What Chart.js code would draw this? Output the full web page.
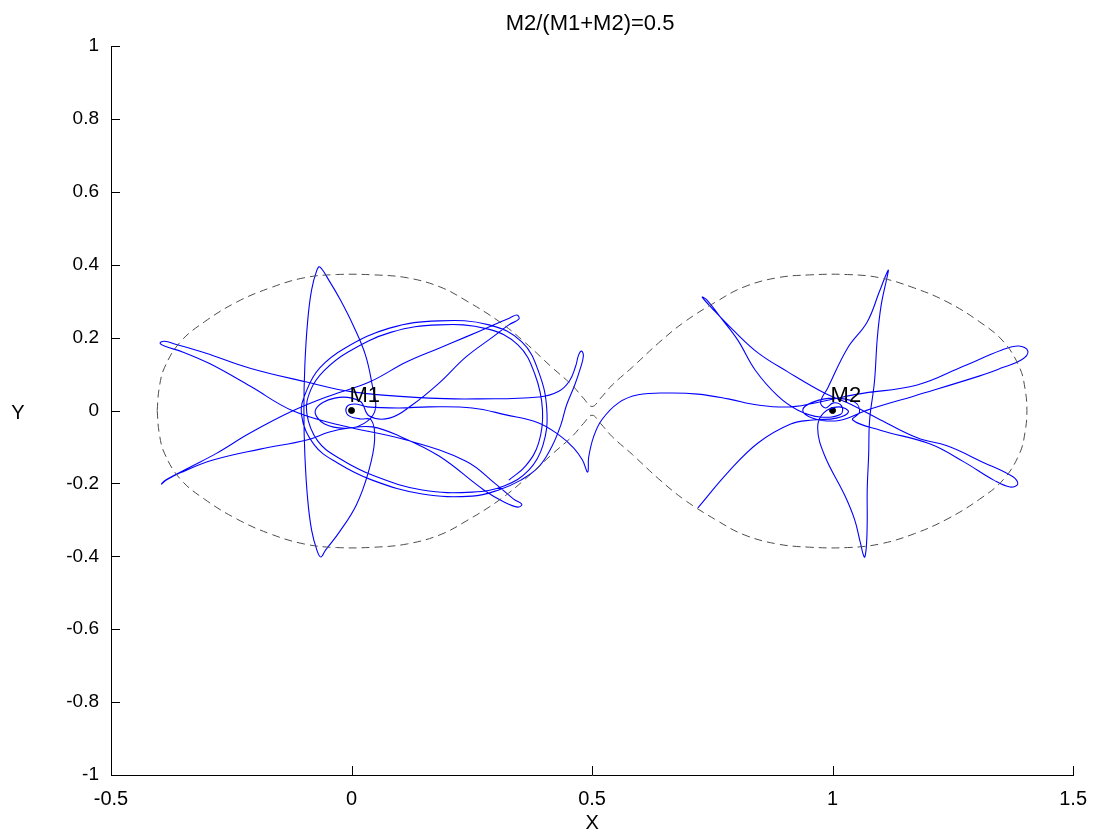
<!DOCTYPE html>
<html>
<head>
<meta charset="utf-8">
<script src="https://cdn.jsdelivr.net/npm/chart.js@4.4.0/dist/chart.umd.min.js"></script>
<style>
  html, body { margin: 0; padding: 0; background: #fff; }
</style>
</head>
<body>
<canvas id="chart" width="1099" height="834"></canvas>
<script>
// ---- labels / ticks ----
const titleText = 'M2/(M1+M2)=0.5';
const xLabel = 'X';
const yLabel = 'Y';
const xTicks = [-0.5, 0, 0.5, 1, 1.5];
const xTickLabels = ['-0.5', '0', '0.5', '1', '1.5'];
const yTicks = [-1, -0.8, -0.6, -0.4, -0.2, 0, 0.2, 0.4, 0.6, 0.8, 1];
const yTickLabels = ['-1', '-0.8', '-0.6', '-0.4', '-0.2', '0', '0.2', '0.4', '0.6', '0.8', '1'];

// ---- the two masses ----
const massNames = ['M1', 'M2'];
const massX = [0, 1];
const massY = [0, 0];

// ---- zero velocity curve (dashed) ----
const zeroVelocity = [
  [-0.404, 0.000], [-0.400, 0.060], [-0.389, 0.117], [-0.356, 0.188], [-0.306, 0.243],
  [-0.238, 0.298], [-0.170, 0.336], [-0.099, 0.364], [-0.031, 0.373], [0.048, 0.372],
  [0.116, 0.364], [0.184, 0.339], [0.240, 0.300], [0.308, 0.243], [0.362, 0.185],
  [0.416, 0.119], [0.458, 0.070], [0.482, 0.034], [0.500, 0.011], [0.518, 0.034],
  [0.542, 0.070], [0.584, 0.119], [0.638, 0.185], [0.692, 0.243], [0.760, 0.300],
  [0.816, 0.339], [0.884, 0.364], [0.952, 0.372], [1.031, 0.373], [1.099, 0.364],
  [1.170, 0.336], [1.238, 0.298], [1.306, 0.243], [1.356, 0.188], [1.389, 0.117],
  [1.400, 0.060], [1.404, 0.000], [1.400, -0.060], [1.389, -0.117], [1.356, -0.188],
  [1.306, -0.243], [1.238, -0.298], [1.170, -0.338], [1.099, -0.366], [1.031, -0.376],
  [0.952, -0.375], [0.884, -0.366], [0.816, -0.341], [0.760, -0.302], [0.692, -0.245],
  [0.638, -0.187], [0.584, -0.121], [0.542, -0.072], [0.518, -0.036], [0.500, -0.013],
  [0.482, -0.036], [0.458, -0.072], [0.416, -0.121], [0.362, -0.187], [0.308, -0.245],
  [0.240, -0.302], [0.184, -0.341], [0.116, -0.366], [0.048, -0.375], [-0.031, -0.376],
  [-0.099, -0.366], [-0.170, -0.338], [-0.238, -0.298], [-0.306, -0.243], [-0.356, -0.188],
  [-0.389, -0.117], [-0.400, -0.060], [-0.404, 0.000]
];

// ---- trajectory, in pieces, in the order it is flown ----
const m1Ellipses = [
  [0.327, -0.191], [0.362, -0.152], [0.389, -0.089], [0.397, 0.001], [0.381, 0.100],
  [0.346, 0.180], [0.282, 0.224], [0.182, 0.235], [0.083, 0.215], [-0.008, 0.160],
  [-0.058, 0.108], [-0.085, 0.056], [-0.093, -0.007], [-0.070, -0.084], [-0.023, -0.133],
  [0.048, -0.180], [0.147, -0.218], [0.251, -0.224], [0.317, -0.207], [0.369, -0.163],
  [0.398, -0.095], [0.406, 0.001], [0.389, 0.106], [0.354, 0.188], [0.286, 0.235],
  [0.182, 0.246], [0.079, 0.226], [-0.014, 0.171], [-0.066, 0.117], [-0.093, 0.056],
  [-0.104, -0.012], [-0.077, -0.095], [-0.029, -0.144], [0.043, -0.191], [0.147, -0.229],
  [0.251, -0.235], [0.306, -0.218], [0.352, -0.191], [0.389, -0.155]
];
const neckLoop = [
  [0.416, -0.100], [0.435, -0.040], [0.447, 0.015], [0.464, 0.070], [0.476, 0.117],
  [0.482, 0.150], [0.478, 0.163], [0.472, 0.152], [0.466, 0.122], [0.453, 0.081],
  [0.431, 0.053], [0.389, 0.037], [0.265, 0.032], [0.161, 0.034], [0.002, 0.051],
  [-0.093, 0.078], [-0.211, 0.116], [-0.304, 0.158], [-0.366, 0.182], [-0.389, 0.190],
  [-0.398, 0.185]
];
const m1StarLeft = [
  [-0.389, 0.177], [-0.350, 0.160], [-0.294, 0.128], [-0.211, 0.067], [-0.122, -0.001],
  [-0.025, -0.040], [0.114, -0.081], [0.238, -0.139], [0.300, -0.202], [0.337, -0.243],
  [0.354, -0.257], [0.346, -0.265], [0.317, -0.251], [0.275, -0.218], [0.182, -0.125],
  [0.099, -0.070], [0.043, -0.045], [-0.004, -0.048], [-0.046, -0.059], [-0.093, -0.081],
  [-0.190, -0.106], [-0.288, -0.136], [-0.356, -0.171], [-0.385, -0.191], [-0.395, -0.202]
];
const m1StarRight = [
  [-0.387, -0.191], [-0.335, -0.155], [-0.280, -0.117], [-0.211, -0.062], [-0.122, -0.001],
  [-0.046, 0.040], [0.037, 0.078], [0.114, 0.133], [0.182, 0.171], [0.238, 0.202],
  [0.296, 0.235], [0.329, 0.254], [0.344, 0.262], [0.348, 0.251], [0.327, 0.235],
  [0.296, 0.204], [0.238, 0.147], [0.182, 0.075], [0.126, 0.015], [0.079, -0.021],
  [0.037, -0.015], [0.017, 0.026], [-0.035, 0.034], [-0.075, 0.001], [-0.056, -0.037],
  [-0.004, -0.048], [0.033, -0.029], [0.050, 0.007]
];
const m1UpDown = [
  [0.043, 0.070], [0.029, 0.152], [0.004, 0.232], [-0.023, 0.303], [-0.046, 0.355],
  [-0.066, 0.394], [-0.072, 0.385], [-0.083, 0.331], [-0.091, 0.248], [-0.097, 0.125],
  [-0.099, 0.001], [-0.097, -0.122], [-0.091, -0.246], [-0.083, -0.328], [-0.072, -0.383],
  [-0.064, -0.402], [-0.054, -0.383], [-0.025, -0.333], [0.010, -0.259], [0.035, -0.169],
  [0.048, -0.081], [0.041, -0.026]
];
const transit = [
  [0.017, -0.023], [-0.008, -0.012], [-0.010, 0.010], [0.006, 0.018], [0.033, 0.010],
  [0.099, 0.007], [0.161, 0.010], [0.251, 0.007], [0.321, -0.012], [0.389, -0.034],
  [0.431, -0.067], [0.462, -0.103], [0.480, -0.136], [0.491, -0.169], [0.493, -0.128],
  [0.503, -0.073], [0.520, -0.026], [0.555, 0.021], [0.596, 0.043], [0.658, 0.048],
  [0.720, 0.045], [0.783, 0.032], [0.845, 0.015], [0.913, 0.010], [0.983, 0.026],
  [1.052, 0.045], [1.176, 0.070], [1.273, 0.122], [1.352, 0.166], [1.387, 0.177],
  [1.406, 0.163], [1.393, 0.139], [1.352, 0.117], [1.306, 0.095], [1.170, 0.040],
  [1.072, 0.001], [1.031, -0.021], [1.000, -0.029], [0.959, -0.021], [0.938, 0.001],
  [0.959, 0.023], [1.002, 0.034], [1.046, 0.023], [1.056, -0.004], [1.042, -0.026]
];
const m2Petals = [
  [1.099, -0.054], [1.203, -0.092], [1.273, -0.141], [1.335, -0.191], [1.369, -0.210],
  [1.385, -0.202], [1.375, -0.182], [1.311, -0.141], [1.238, -0.097], [1.176, -0.075],
  [1.093, -0.021], [1.031, 0.021], [0.983, 0.048], [0.907, 0.106], [0.845, 0.158],
  [0.793, 0.221], [0.749, 0.281], [0.729, 0.311], [0.739, 0.303], [0.768, 0.254],
  [0.803, 0.193], [0.839, 0.111], [0.886, 0.040], [0.928, 0.001], [0.975, -0.018],
  [1.017, -0.010], [1.019, 0.012], [1.002, 0.021], [0.985, 0.007], [0.975, 0.023]
];
const m2UpDown = [
  [0.990, 0.062], [1.031, 0.171], [1.072, 0.243], [1.097, 0.325], [1.110, 0.369],
  [1.116, 0.385], [1.112, 0.358], [1.101, 0.289], [1.093, 0.199], [1.087, 0.078],
  [1.077, -0.026], [1.075, -0.122], [1.072, -0.218], [1.072, -0.306], [1.070, -0.377],
  [1.066, -0.402], [1.058, -0.364], [1.046, -0.300], [1.025, -0.232], [0.983, -0.122],
  [0.969, -0.048], [0.981, -0.007], [1.013, 0.010], [1.033, -0.004], [1.008, -0.021],
  [0.959, -0.026], [0.913, -0.037], [0.845, -0.089], [0.783, -0.169], [0.720, -0.267]
];

const trajectory = [].concat(m1Ellipses, neckLoop, m1StarLeft, m1StarRight, m1UpDown, transit, m2Petals, m2UpDown);

const toPts = arr => arr.map(p => ({x: p[0], y: p[1]}));

const FONT = '"Liberation Sans", Arial, sans-serif';

const decor = {
  id: 'decor',
  afterDraw(chart) {
    const {ctx, chartArea, scales} = chart;
    const xs = scales.x, ys = scales.y;
    ctx.save();
    // inward ticks like matlab
    ctx.strokeStyle = '#000';
    ctx.lineWidth = 1;
    ctx.beginPath();
    xTicks.forEach(v => {
      const px = Math.round(xs.getPixelForValue(v)) + 0.5;
      ctx.moveTo(px, chartArea.bottom);
      ctx.lineTo(px, chartArea.bottom - 9);
    });
    yTicks.forEach(v => {
      const py = Math.round(ys.getPixelForValue(v)) + 0.5;
      ctx.moveTo(chartArea.left, py);
      ctx.lineTo(chartArea.left + 9, py);
    });
    ctx.stroke();

    ctx.fillStyle = '#000';
    ctx.textBaseline = 'alphabetic';
    ctx.textAlign = 'center';
    const cx = (chartArea.left + chartArea.right) / 2;
    ctx.font = '22px ' + FONT;
    ctx.fillText(titleText, cx - 2, 30);
    ctx.font = '20px ' + FONT;
    ctx.fillText(xLabel, cx, 829);
    ctx.fillText(yLabel, 18, (chartArea.top + chartArea.bottom) / 2 + 8);

    ctx.font = '22px ' + FONT;
    ctx.textAlign = 'left';
    massNames.forEach((n, i) => {
      ctx.fillText(n, xs.getPixelForValue(massX[i]) - 2, ys.getPixelForValue(massY[i]) - 9);
    });
    ctx.restore();
  }
};

new Chart(document.getElementById('chart'), {
  type: 'scatter',
  data: {
    datasets: [
      {
        data: toPts(zeroVelocity),
        showLine: true,
        borderColor: '#4d4d4d',
        borderWidth: 1,
        borderDash: [8, 5],
        pointRadius: 0,
        tension: 0.4
      },
      {
        data: toPts(trajectory),
        showLine: true,
        borderColor: '#0000ff',
        borderWidth: 1.1,
        pointRadius: 0,
        tension: 0.4
      },
      {
        data: massX.map((x, i) => ({x: x, y: massY[i]})),
        showLine: false,
        pointRadius: 3,
        pointBackgroundColor: '#000',
        pointBorderColor: '#000',
        pointBorderWidth: 1
      }
    ]
  },
  options: {
    responsive: false,
    animation: false,
    events: [],
    layout: { padding: { top: 46, right: 22, left: 0, bottom: 0 } },
    plugins: { legend: { display: false }, tooltip: { enabled: false }, title: { display: false } },
    scales: {
      x: {
        type: 'linear',
        min: -0.5, max: 1.5,
        afterBuildTicks: s => { s.ticks = xTicks.map(v => ({value: v})); },
        afterFit: s => { s.height = 59; },
        grid: { display: false, drawTicks: false },
        border: { display: true, color: '#000', width: 1 },
        ticks: {
          padding: 12,
          color: '#000',
          font: { family: FONT, size: 20 },
          maxRotation: 0,
          callback: (v) => xTickLabels[xTicks.indexOf(v)]
        }
      },
      y: {
        type: 'linear',
        min: -1, max: 1,
        afterBuildTicks: s => { s.ticks = yTicks.map(v => ({value: v})); },
        afterFit: s => { s.width = 111; },
        grid: { display: false, drawTicks: false },
        border: { display: true, color: '#000', width: 1 },
        ticks: {
          padding: 12,
          color: '#000',
          font: { family: FONT, size: 19 },
          callback: (v) => yTickLabels[yTicks.indexOf(v)]
        }
      }
    }
  },
  plugins: [decor]
});
</script>
</body>
</html>
